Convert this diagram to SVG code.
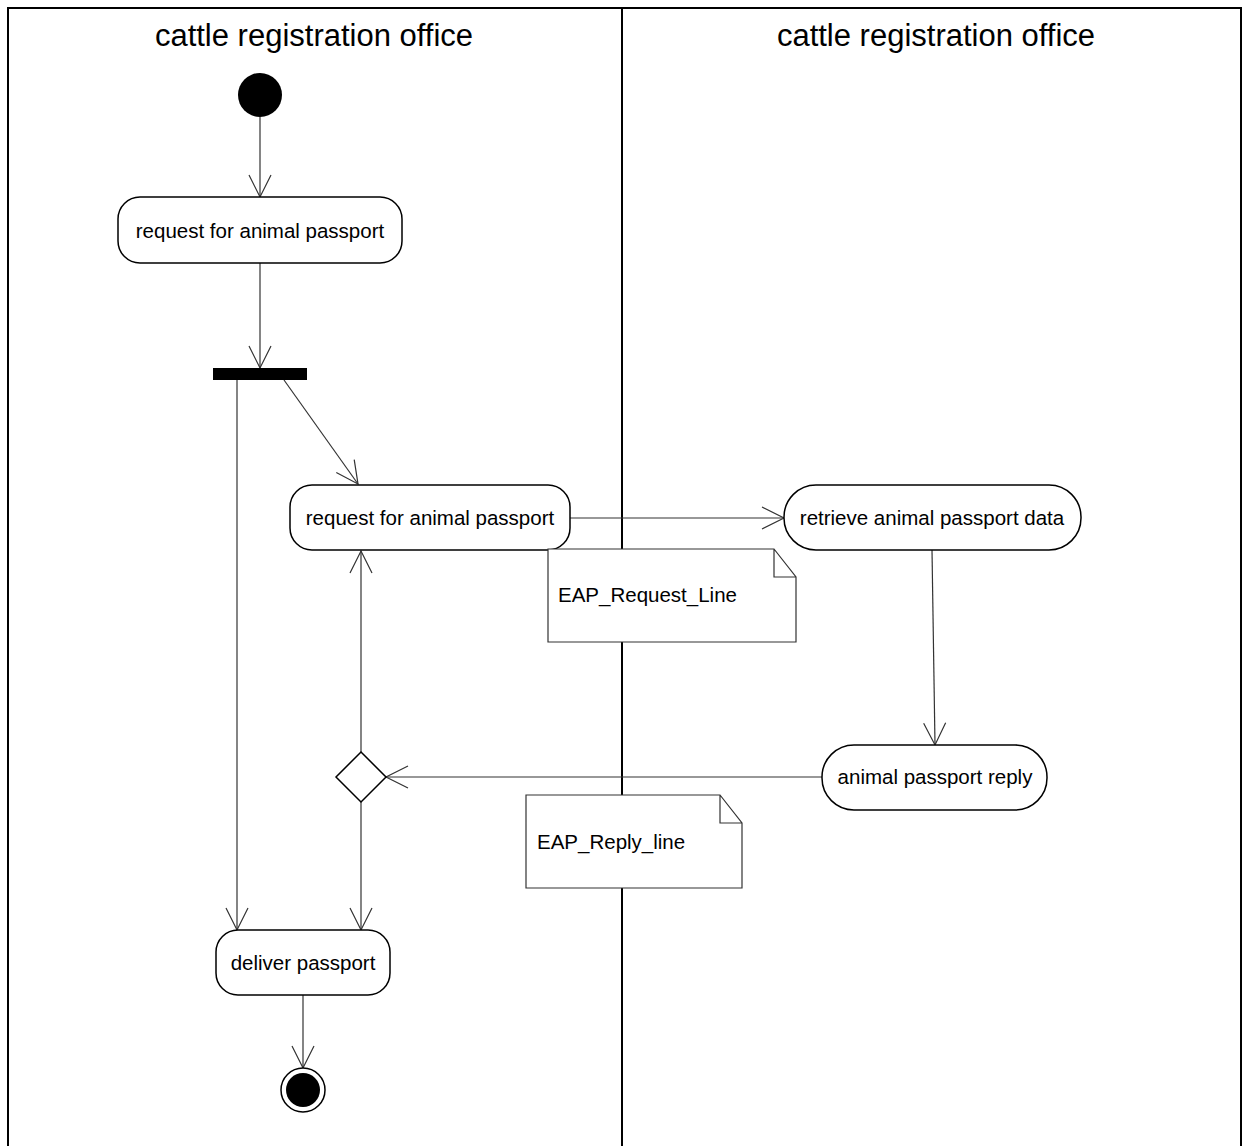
<svg xmlns="http://www.w3.org/2000/svg" width="1249" height="1146" viewBox="0 0 1249 1146">
<style>
.frame{fill:none;stroke:#000;stroke-width:2}
.node{fill:#fff;stroke:#000;stroke-width:1.5}
.note{fill:#fff;stroke:#333;stroke-width:1.2}
.edge{fill:none;stroke:#333;stroke-width:1.2}
.lbl{font-family:"Liberation Sans",Arial,sans-serif;font-size:20.5px;fill:#000}
.title{font-family:"Liberation Sans",Arial,sans-serif;font-size:31px;fill:#000;text-anchor:middle}
</style>
<defs>
<marker id="open" markerUnits="userSpaceOnUse" markerWidth="26" markerHeight="26" viewBox="-24 -12 26 24" refX="0" refY="0" orient="auto">
<path d="M-22,-11 L0,0 L-22,11" fill="none" stroke="#333" stroke-width="1.2"/>
</marker>
</defs>
<rect width="1249" height="1146" fill="#fff"/>
<g id="swimlanes">
<path class="frame" d="M8,1146 V8 H1241 V1146"/>
<line class="frame" x1="622" y1="8" x2="622" y2="1146"/>
<text class="title" x="314" y="46">cattle registration office</text>
<text class="title" x="936" y="46">cattle registration office</text>
</g>
<g id="connectors">
<line class="edge" x1="260" y1="117" x2="260" y2="197" marker-end="url(#open)"/>
<line class="edge" x1="260" y1="263" x2="260" y2="368" marker-end="url(#open)"/>
<line class="edge" x1="237" y1="380" x2="237" y2="930" marker-end="url(#open)"/>
<line class="edge" x1="284" y1="380" x2="358" y2="484" marker-end="url(#open)"/>
<line class="edge" x1="570" y1="518" x2="784" y2="518" marker-end="url(#open)"/>
<line class="edge" x1="932" y1="550" x2="935" y2="745" marker-end="url(#open)"/>
<line class="edge" x1="822" y1="777" x2="386" y2="777" marker-end="url(#open)"/>
<line class="edge" x1="361" y1="752" x2="361" y2="551" marker-end="url(#open)"/>
<line class="edge" x1="361" y1="802" x2="361" y2="930" marker-end="url(#open)"/>
<line class="edge" x1="303" y1="995" x2="303" y2="1068" marker-end="url(#open)"/>
</g>
<g id="start"><circle cx="260" cy="95" r="22" fill="#000"/></g>
<g id="request1">
<rect class="node" x="118" y="197" width="284" height="66" rx="22"/>
<text class="lbl" x="260" y="238" text-anchor="middle">request for animal passport</text>
</g>
<g id="fork"><rect x="213" y="368" width="94" height="12" fill="#000"/></g>
<g id="request2">
<rect class="node" x="290" y="485" width="280" height="65" rx="22"/>
<text class="lbl" x="430" y="525" text-anchor="middle">request for animal passport</text>
</g>
<g id="retrieve">
<rect class="node" x="784" y="485" width="297" height="65" rx="32"/>
<text class="lbl" x="932" y="525" text-anchor="middle">retrieve animal passport data</text>
</g>
<g id="noteRequest">
<path class="note" d="M548,549 H774 L796,577 V642 H548 Z M774,549 V577 H796"/>
<text class="lbl" x="558" y="602">EAP_Request_Line</text>
</g>
<g id="reply">
<rect class="node" x="822" y="745" width="225" height="65" rx="32"/>
<text class="lbl" x="935" y="784" text-anchor="middle">animal passport reply</text>
</g>
<g id="decision">
<path class="node" d="M361,752 L386,777 L361,802 L336,777 Z"/>
</g>
<g id="noteReply">
<path class="note" d="M526,795 H720 L742,823 V888 H526 Z M720,795 V823 H742"/>
<text class="lbl" x="537" y="849">EAP_Reply_line</text>
</g>
<g id="deliver">
<rect class="node" x="216" y="930" width="174" height="65" rx="22"/>
<text class="lbl" x="303" y="970" text-anchor="middle">deliver passport</text>
</g>
<g id="end">
<circle cx="303" cy="1090" r="22" fill="#fff" stroke="#000" stroke-width="1.5"/>
<circle cx="303" cy="1090" r="17" fill="#000"/>
</g>
</svg>
